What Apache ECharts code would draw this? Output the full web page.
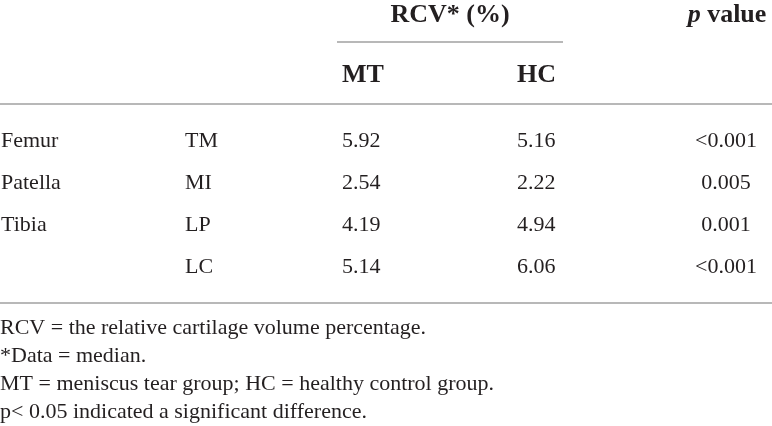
<!DOCTYPE html>
<html lang="en">
<head>
  <meta charset="UTF-8">
  <title>RCV table</title>
  <script src="https://cdn.jsdelivr.net/npm/echarts@6/dist/echarts.min.js"></script>
  <style>
    html, body { margin: 0; padding: 0; background: #fff; }
    #main { width: 772px; height: 426px; }
  </style>
</head>
<body>
  <div id="main"></div>
</body>
</html>
<script type="text/javascript">
  // table contents
  let rowIds = ['r1', 'r2', 'r3', 'r4'];
  let regions = ['Femur', 'Patella', 'Tibia', ''];
  let subRegions = ['TM', 'MI', 'LP', 'LC'];
  let mtValues = ['5.92', '2.54', '4.19', '5.14'];
  let hcValues = ['5.16', '2.22', '4.94', '6.06'];
  let pValues = ['<0.001', '0.005', '0.001', '<0.001'];
  let footnotes = [
    'RCV = the relative cartilage volume percentage.',
    '*Data = median.',
    'MT = meniscus tear group; HC = healthy control group.',
    'p< 0.05 indicated a significant difference.'
  ];

  let chart = echarts.init(document.getElementById('main'));
  let font = 'Liberation Serif';
  let ink = '#231f20';
  let ruleColor = '#a0a0a0';

  // column anchors (pixels on the hidden x axis)
  function column(name, x, texts, align) {
    return {
      name: name,
      type: 'scatter',
      symbolSize: 0,
      silent: true,
      itemStyle: { opacity: 1, color: ink }, // scatter defaults to 0.8, which greys the labels
      data: texts.map((t, i) => ({ value: [x, rowIds[i]], text: t })),
      label: {
        show: true,
        position: align === 'center' ? 'inside' : 'right',
        distance: 0,
        formatter: p => p.data.text,
        fontFamily: font,
        fontSize: 22,
        color: ink,
        opacity: 1,
        textBorderWidth: 0
      }
    };
  }

  let headerStyle = { fontFamily: font, fontSize: 26, fontWeight: 'bold', fill: ink, verticalAlign: 'middle' };

  let option = {
    animation: false,
    grid: { left: 0, right: 0, top: 120, bottom: 138 },
    xAxis: { type: 'value', min: 0, max: 772, show: false },
    yAxis: { type: 'category', data: rowIds, inverse: true, show: false },
    series: [
      column('region', 1, regions, 'left'),
      column('sub', 185, subRegions, 'left'),
      column('MT', 342, mtValues, 'left'),
      column('HC', 517, hcValues, 'left'),
      column('p', 726, pValues, 'center')
    ],
    graphic: [
      { type: 'text', x: 450, y: 15, style: Object.assign({ text: 'RCV* (%)', align: 'center' }, headerStyle) },
      {
        type: 'text', x: 727, y: 15,
        style: Object.assign({
          text: '{i|p} value', align: 'center',
          rich: { i: { fontFamily: font, fontSize: 26, fontWeight: 'bold', fontStyle: 'italic', fill: ink } }
        }, headerStyle)
      },
      { type: 'text', x: 342, y: 75, style: Object.assign({ text: 'MT', align: 'left' }, headerStyle) },
      { type: 'text', x: 517, y: 75, style: Object.assign({ text: 'HC', align: 'left' }, headerStyle) },
      { type: 'line', shape: { x1: 337, y1: 42, x2: 563, y2: 42 }, style: { stroke: ruleColor, lineWidth: 1.5 } },
      { type: 'line', shape: { x1: 0, y1: 104, x2: 772, y2: 104 }, style: { stroke: ruleColor, lineWidth: 1.5 } },
      { type: 'line', shape: { x1: 0, y1: 303, x2: 772, y2: 303 }, style: { stroke: ruleColor, lineWidth: 1.5 } }
    ].concat(footnotes.map((t, i) => ({
      type: 'text', x: 0, y: 328 + i * 28,
      style: { text: t, fontFamily: font, fontSize: 22, fill: ink, verticalAlign: 'middle' }
    })))
  };
  chart.setOption(option);
</script>
